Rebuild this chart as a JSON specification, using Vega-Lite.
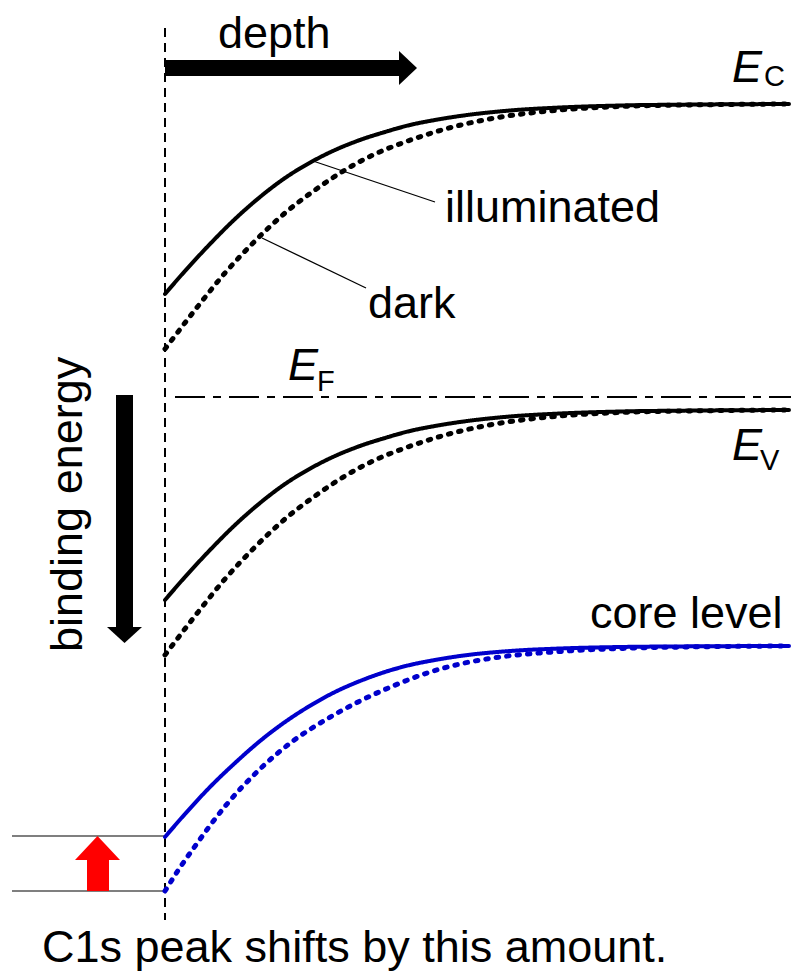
{
  "$schema": "https://vega.github.io/schema/vega-lite/v6.json",
  "autosize": {"type": "none"},
  "width": 791,
  "height": 978,
  "padding": 0,
  "background": "white",
  "config": {
    "view": {"stroke": null},
    "axis": {"disable": true},
    "legend": {"disable": true},
    "text": {"font": "Liberation Sans", "fontSize": 45, "align": "left", "baseline": "alphabetic", "color": "black"}
  },
  "datasets": {
    "bands": [
      {"level": "Ec", "state": "illuminated", "depth": 0, "energy": 1.03},
      {"level": "Ec", "state": "illuminated", "depth": 0.2, "energy": 1.26},
      {"level": "Ec", "state": "illuminated", "depth": 0.45, "energy": 1.53},
      {"level": "Ec", "state": "illuminated", "depth": 0.7, "energy": 1.78},
      {"level": "Ec", "state": "illuminated", "depth": 0.95, "energy": 2.0},
      {"level": "Ec", "state": "illuminated", "depth": 1.2, "energy": 2.19},
      {"level": "Ec", "state": "illuminated", "depth": 1.48, "energy": 2.36},
      {"level": "Ec", "state": "illuminated", "depth": 1.7, "energy": 2.47},
      {"level": "Ec", "state": "illuminated", "depth": 1.95, "energy": 2.57},
      {"level": "Ec", "state": "illuminated", "depth": 2.2, "energy": 2.65},
      {"level": "Ec", "state": "illuminated", "depth": 2.45, "energy": 2.72},
      {"level": "Ec", "state": "illuminated", "depth": 2.7, "energy": 2.77},
      {"level": "Ec", "state": "illuminated", "depth": 2.95, "energy": 2.81},
      {"level": "Ec", "state": "illuminated", "depth": 3.45, "energy": 2.865},
      {"level": "Ec", "state": "illuminated", "depth": 3.95, "energy": 2.895},
      {"level": "Ec", "state": "illuminated", "depth": 4.55, "energy": 2.915},
      {"level": "Ec", "state": "illuminated", "depth": 5.35, "energy": 2.925},
      {"level": "Ec", "state": "illuminated", "depth": 6.24, "energy": 2.93},

      {"level": "Ec", "state": "dark", "depth": 0, "energy": 0.48},
      {"level": "Ec", "state": "dark", "depth": 0.3, "energy": 0.87},
      {"level": "Ec", "state": "dark", "depth": 0.6, "energy": 1.24},
      {"level": "Ec", "state": "dark", "depth": 0.9, "energy": 1.56},
      {"level": "Ec", "state": "dark", "depth": 1.2, "energy": 1.84},
      {"level": "Ec", "state": "dark", "depth": 1.5, "energy": 2.07},
      {"level": "Ec", "state": "dark", "depth": 1.8, "energy": 2.27},
      {"level": "Ec", "state": "dark", "depth": 2.1, "energy": 2.43},
      {"level": "Ec", "state": "dark", "depth": 2.4, "energy": 2.55},
      {"level": "Ec", "state": "dark", "depth": 2.7, "energy": 2.65},
      {"level": "Ec", "state": "dark", "depth": 3.0, "energy": 2.73},
      {"level": "Ec", "state": "dark", "depth": 3.3, "energy": 2.79},
      {"level": "Ec", "state": "dark", "depth": 3.95, "energy": 2.87},
      {"level": "Ec", "state": "dark", "depth": 4.55, "energy": 2.905},
      {"level": "Ec", "state": "dark", "depth": 5.35, "energy": 2.922},
      {"level": "Ec", "state": "dark", "depth": 6.24, "energy": 2.93},

      {"level": "Ev", "state": "illuminated", "depth": 0, "energy": -2.03},
      {"level": "Ev", "state": "illuminated", "depth": 0.2, "energy": -1.8},
      {"level": "Ev", "state": "illuminated", "depth": 0.45, "energy": -1.53},
      {"level": "Ev", "state": "illuminated", "depth": 0.7, "energy": -1.28},
      {"level": "Ev", "state": "illuminated", "depth": 0.95, "energy": -1.06},
      {"level": "Ev", "state": "illuminated", "depth": 1.2, "energy": -0.87},
      {"level": "Ev", "state": "illuminated", "depth": 1.48, "energy": -0.7},
      {"level": "Ev", "state": "illuminated", "depth": 1.7, "energy": -0.59},
      {"level": "Ev", "state": "illuminated", "depth": 1.95, "energy": -0.49},
      {"level": "Ev", "state": "illuminated", "depth": 2.2, "energy": -0.41},
      {"level": "Ev", "state": "illuminated", "depth": 2.45, "energy": -0.34},
      {"level": "Ev", "state": "illuminated", "depth": 2.7, "energy": -0.29},
      {"level": "Ev", "state": "illuminated", "depth": 2.95, "energy": -0.25},
      {"level": "Ev", "state": "illuminated", "depth": 3.45, "energy": -0.195},
      {"level": "Ev", "state": "illuminated", "depth": 3.95, "energy": -0.165},
      {"level": "Ev", "state": "illuminated", "depth": 4.55, "energy": -0.145},
      {"level": "Ev", "state": "illuminated", "depth": 5.35, "energy": -0.135},
      {"level": "Ev", "state": "illuminated", "depth": 6.24, "energy": -0.13},

      {"level": "Ev", "state": "dark", "depth": 0, "energy": -2.58},
      {"level": "Ev", "state": "dark", "depth": 0.3, "energy": -2.19},
      {"level": "Ev", "state": "dark", "depth": 0.6, "energy": -1.82},
      {"level": "Ev", "state": "dark", "depth": 0.9, "energy": -1.5},
      {"level": "Ev", "state": "dark", "depth": 1.2, "energy": -1.22},
      {"level": "Ev", "state": "dark", "depth": 1.5, "energy": -0.99},
      {"level": "Ev", "state": "dark", "depth": 1.8, "energy": -0.79},
      {"level": "Ev", "state": "dark", "depth": 2.1, "energy": -0.63},
      {"level": "Ev", "state": "dark", "depth": 2.4, "energy": -0.51},
      {"level": "Ev", "state": "dark", "depth": 2.7, "energy": -0.41},
      {"level": "Ev", "state": "dark", "depth": 3.0, "energy": -0.33},
      {"level": "Ev", "state": "dark", "depth": 3.3, "energy": -0.27},
      {"level": "Ev", "state": "dark", "depth": 3.95, "energy": -0.19},
      {"level": "Ev", "state": "dark", "depth": 4.55, "energy": -0.155},
      {"level": "Ev", "state": "dark", "depth": 5.35, "energy": -0.138},
      {"level": "Ev", "state": "dark", "depth": 6.24, "energy": -0.13},

      {"level": "core", "state": "illuminated", "depth": 0, "energy": -4.4},
      {"level": "core", "state": "illuminated", "depth": 0.2, "energy": -4.17},
      {"level": "core", "state": "illuminated", "depth": 0.45, "energy": -3.9},
      {"level": "core", "state": "illuminated", "depth": 0.7, "energy": -3.66},
      {"level": "core", "state": "illuminated", "depth": 0.95, "energy": -3.44},
      {"level": "core", "state": "illuminated", "depth": 1.2, "energy": -3.25},
      {"level": "core", "state": "illuminated", "depth": 1.48, "energy": -3.07},
      {"level": "core", "state": "illuminated", "depth": 1.7, "energy": -2.95},
      {"level": "core", "state": "illuminated", "depth": 1.95, "energy": -2.84},
      {"level": "core", "state": "illuminated", "depth": 2.2, "energy": -2.75},
      {"level": "core", "state": "illuminated", "depth": 2.45, "energy": -2.68},
      {"level": "core", "state": "illuminated", "depth": 2.7, "energy": -2.63},
      {"level": "core", "state": "illuminated", "depth": 2.95, "energy": -2.59},
      {"level": "core", "state": "illuminated", "depth": 3.45, "energy": -2.54},
      {"level": "core", "state": "illuminated", "depth": 3.95, "energy": -2.515},
      {"level": "core", "state": "illuminated", "depth": 4.55, "energy": -2.5},
      {"level": "core", "state": "illuminated", "depth": 5.35, "energy": -2.493},
      {"level": "core", "state": "illuminated", "depth": 6.24, "energy": -2.49},

      {"level": "core", "state": "dark", "depth": 0, "energy": -4.94},
      {"level": "core", "state": "dark", "depth": 0.14, "energy": -4.72},
      {"level": "core", "state": "dark", "depth": 0.28, "energy": -4.52},
      {"level": "core", "state": "dark", "depth": 0.62, "energy": -4.07},
      {"level": "core", "state": "dark", "depth": 0.95, "energy": -3.72},
      {"level": "core", "state": "dark", "depth": 1.28, "energy": -3.44},
      {"level": "core", "state": "dark", "depth": 1.62, "energy": -3.22},
      {"level": "core", "state": "dark", "depth": 1.95, "energy": -3.04},
      {"level": "core", "state": "dark", "depth": 2.28, "energy": -2.89},
      {"level": "core", "state": "dark", "depth": 2.62, "energy": -2.76},
      {"level": "core", "state": "dark", "depth": 2.95, "energy": -2.67},
      {"level": "core", "state": "dark", "depth": 3.28, "energy": -2.61},
      {"level": "core", "state": "dark", "depth": 3.95, "energy": -2.545},
      {"level": "core", "state": "dark", "depth": 4.55, "energy": -2.515},
      {"level": "core", "state": "dark", "depth": 5.35, "energy": -2.498},
      {"level": "core", "state": "dark", "depth": 6.24, "energy": -2.49}
    ]
  },
  "layer": [
    {
      "data": {"values": [{"depth": 0, "top": 3.69, "bottom": -5.23}]},
      "mark": {"type": "rule", "color": "black", "strokeWidth": 2, "strokeDash": [9, 6]},
      "encoding": {
        "x": {"field": "depth", "type": "quantitative", "scale": {"domain": [-1.65, 6.26], "nice": false, "zero": false}},
        "y": {"field": "top", "type": "quantitative", "scale": {"domain": [-5.81, 3.97], "nice": false, "zero": false}},
        "y2": {"field": "bottom"}
      }
    },
    {
      "data": {"values": [{"start": 0.1, "end": 6.26, "energy": 0}]},
      "mark": {"type": "rule", "color": "black", "strokeWidth": 2, "strokeDash": [30, 8, 8, 8]},
      "encoding": {
        "x": {"field": "start", "type": "quantitative"},
        "x2": {"field": "end"},
        "y": {"field": "energy", "type": "quantitative"}
      }
    },
    {
      "data": {"values": [
        {"start": -1.53, "end": 0, "energy": -4.39},
        {"start": -1.53, "end": 0, "energy": -4.94}
      ]},
      "mark": {"type": "rule", "color": "#555555", "strokeWidth": 1.5},
      "encoding": {
        "x": {"field": "start", "type": "quantitative"},
        "x2": {"field": "end"},
        "y": {"field": "energy", "type": "quantitative"}
      }
    },
    {
      "data": {"name": "bands"},
      "mark": {"type": "line", "interpolate": "monotone", "strokeCap": "round"},
      "encoding": {
        "x": {"field": "depth", "type": "quantitative"},
        "y": {"field": "energy", "type": "quantitative"},
        "order": {"field": "depth"},
        "color": {"field": "level", "type": "nominal", "scale": {"domain": ["Ec", "Ev", "core"], "range": ["black", "black", "#0000cc"]}},
        "strokeDash": {"field": "state", "type": "nominal", "scale": {"domain": ["illuminated", "dark"], "range": [[1, 0], [2.5, 8]]}},
        "strokeWidth": {"field": "state", "type": "nominal", "scale": {"domain": ["illuminated", "dark"], "range": [4, 5]}}
      }
    },
    {
      "data": {"values": [
        {"x1": 1.48, "y1": 2.36, "x2": 2.7, "y2": 1.95},
        {"x1": 0.97, "y1": 1.59, "x2": 2.01, "y2": 1.09}
      ]},
      "mark": {"type": "rule", "color": "black", "strokeWidth": 1.3},
      "encoding": {
        "x": {"field": "x1", "type": "quantitative"},
        "y": {"field": "y1", "type": "quantitative"},
        "x2": {"field": "x2"},
        "y2": {"field": "y2"}
      }
    },
    {
      "data": {"values": [
        {"left": 0, "right": 2.35, "top": 3.37, "bottom": 3.21},
        {"left": -0.49, "right": -0.32, "top": 0.02, "bottom": -2.31}
      ]},
      "mark": {"type": "rect", "color": "black"},
      "encoding": {
        "x": {"field": "left", "type": "quantitative"},
        "x2": {"field": "right"},
        "y": {"field": "top", "type": "quantitative"},
        "y2": {"field": "bottom"}
      }
    },
    {
      "data": {"values": [
        {"depth": 2.34, "low": 3.12, "high": 3.46},
        {"depth": 2.52, "low": 3.29, "high": 3.29}
      ]},
      "mark": {"type": "area", "color": "black", "orient": "vertical"},
      "encoding": {
        "x": {"field": "depth", "type": "quantitative"},
        "y": {"field": "low", "type": "quantitative"},
        "y2": {"field": "high"}
      }
    },
    {
      "data": {"values": [
        {"energy": -2.3, "left": -0.58, "right": -0.23},
        {"energy": -2.46, "left": -0.405, "right": -0.405}
      ]},
      "mark": {"type": "area", "color": "black", "orient": "horizontal"},
      "encoding": {
        "y": {"field": "energy", "type": "quantitative"},
        "x": {"field": "left", "type": "quantitative"},
        "x2": {"field": "right"}
      }
    },
    {
      "data": {"values": [{"left": -0.78, "right": -0.56, "top": -4.62, "bottom": -4.94}]},
      "mark": {"type": "rect", "color": "#ff0000"},
      "encoding": {
        "x": {"field": "left", "type": "quantitative"},
        "x2": {"field": "right"},
        "y": {"field": "top", "type": "quantitative"},
        "y2": {"field": "bottom"}
      }
    },
    {
      "data": {"values": [
        {"energy": -4.63, "left": -0.9, "right": -0.45},
        {"energy": -4.39, "left": -0.675, "right": -0.675}
      ]},
      "mark": {"type": "area", "color": "#ff0000", "orient": "horizontal"},
      "encoding": {
        "y": {"field": "energy", "type": "quantitative"},
        "x": {"field": "left", "type": "quantitative"},
        "x2": {"field": "right"}
      }
    },
    {
      "data": {"values": [
        {"depth": 0.53, "energy": 3.49, "label": "depth"},
        {"depth": 2.8, "energy": 1.75, "label": "illuminated"},
        {"depth": 2.03, "energy": 0.79, "label": "dark"},
        {"depth": 4.25, "energy": -2.31, "label": "core level"},
        {"depth": -1.23, "energy": -5.65, "label": "C1s peak shifts by this amount."}
      ]},
      "mark": {"type": "text"},
      "encoding": {
        "x": {"field": "depth", "type": "quantitative"},
        "y": {"field": "energy", "type": "quantitative"},
        "text": {"field": "label"}
      }
    },
    {
      "data": {"values": [
        {"depth": 5.67, "energy": 3.15, "label": "E"},
        {"depth": 1.23, "energy": 0.17, "label": "E"},
        {"depth": 5.67, "energy": -0.63, "label": "E"}
      ]},
      "mark": {"type": "text", "fontStyle": "italic"},
      "encoding": {
        "x": {"field": "depth", "type": "quantitative"},
        "y": {"field": "energy", "type": "quantitative"},
        "text": {"field": "label"}
      }
    },
    {
      "data": {"values": [
        {"depth": 5.99, "energy": 3.11, "label": "C"},
        {"depth": 1.52, "energy": 0.06, "label": "F"},
        {"depth": 5.95, "energy": -0.73, "label": "V"}
      ]},
      "mark": {"type": "text", "fontSize": 29},
      "encoding": {
        "x": {"field": "depth", "type": "quantitative"},
        "y": {"field": "energy", "type": "quantitative"},
        "text": {"field": "label"}
      }
    },
    {
      "data": {"values": [{"depth": -0.83, "energy": -2.55, "label": "binding energy"}]},
      "mark": {"type": "text", "angle": 270},
      "encoding": {
        "x": {"field": "depth", "type": "quantitative"},
        "y": {"field": "energy", "type": "quantitative"},
        "text": {"field": "label"}
      }
    }
  ]
}
